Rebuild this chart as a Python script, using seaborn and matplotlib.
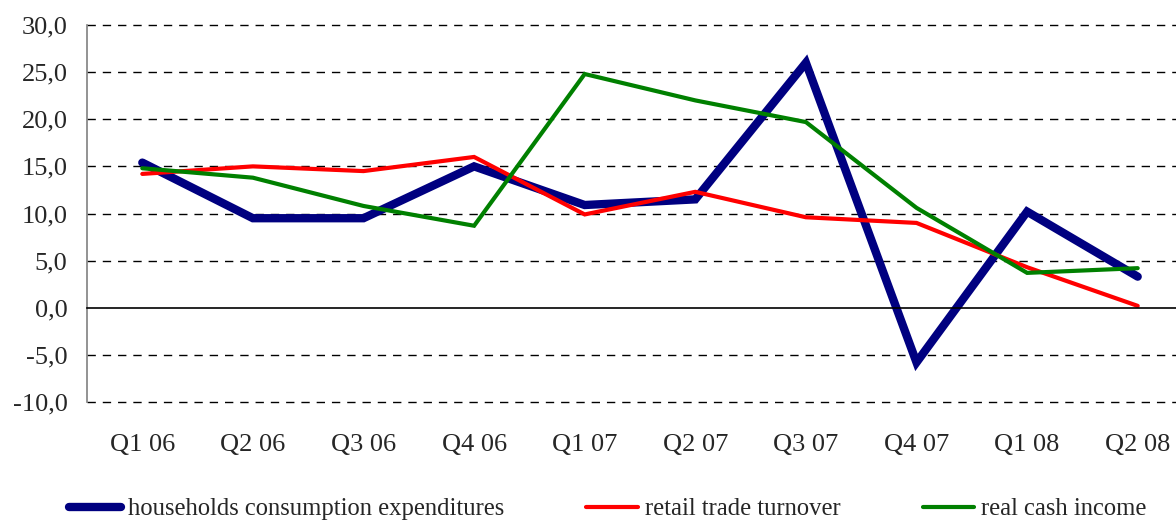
import matplotlib
matplotlib.use("Agg")
import matplotlib.pyplot as plt
import pandas as pd
import seaborn as sns

quarters = ["Q1 06", "Q2 06", "Q3 06", "Q4 06", "Q1 07", "Q2 07", "Q3 07", "Q4 07", "Q1 08", "Q2 08"]
households = [15.4, 9.5, 9.5, 15.0, 10.9, 11.5, 26.0, -5.8, 10.2, 3.3]
retail = [14.2, 15.0, 14.5, 16.0, 9.9, 12.3, 9.6, 9.0, 4.3, 0.2]
cash_income = [14.8, 13.8, 10.8, 8.7, 24.8, 22.0, 19.7, 10.6, 3.7, 4.2]

names = ["households consumption expenditures", "retail trade turnover", "real cash income"]
colors = ["#000080", "#ff0000", "#008000"]
widths = [6.0, 3.0, 3.0]

df = pd.DataFrame({
    "x": list(range(len(quarters))) * 3,
    "value": households + retail + cash_income,
    "series": [n for n in names for _ in quarters],
})

sns.set_style("white")
plt.rcParams['font.family'] = ['Liberation Serif', 'DejaVu Serif']

fig = plt.figure(figsize=(11.76, 5.23), dpi=100)
ax = fig.add_axes([87 / 1176, 1 - 402 / 523, 1106 / 1176, 377 / 523])

sns.lineplot(data=df, x="x", y="value", hue="series", hue_order=names,
             palette=colors, ax=ax, legend=False, sort=False)
for line, lw in zip(ax.get_lines(), widths):
    line.set_linewidth(lw)
    line.set_solid_capstyle("round")
    line.set_solid_joinstyle("miter")

ax.set_xlim(-0.5, len(quarters) - 0.5)
ax.set_ylim(-10, 30)
ax.set_yticks(range(-10, 31, 5))
ax.set_yticklabels([f"{v},0" for v in range(-10, 31, 5)], fontsize=19)
for v in range(-10, 31, 5):
    if v != 0:
        ax.axhline(v, color="black", lw=1, ls=(0, (6, 5)), zorder=0, clip_on=False)

# x axis at zero with boundary ticks, labels pushed down
ax.spines['bottom'].set_position(('data', 0))
ax.spines['bottom'].set_color("black")
ax.spines['bottom'].set_linewidth(1.2)
ax.spines['top'].set_visible(False)
ax.spines['right'].set_visible(False)
ax.spines['left'].set_color("#808080")
ax.spines['left'].set_linewidth(1.2)
ax.set_xticks(range(len(quarters)))
ax.set_xticklabels(quarters, fontsize=19)
ax.set_xticks([i - 0.5 for i in range(len(quarters) + 1)], minor=True)
ax.tick_params(axis='x', which='major', length=0, pad=91)
ax.tick_params(axis='x', which='minor', length=6, direction='out', color="#606060", width=1.2)
ax.tick_params(axis='y', length=6, direction='out', color="#808080", width=1.2, pad=8)
ax.set_xlabel("")
ax.set_ylabel("")

handles = [plt.Line2D([], [], color=c, lw=lw, solid_capstyle="round") for c, lw in zip(colors, widths)]
fig.legend(handles, names, loc="lower left", bbox_to_anchor=(0.04, -0.037), ncol=3,
           frameon=False, fontsize=17.7, handlelength=2.1, handletextpad=0.28,
           columnspacing=3.35)

fig.savefig("out.png", dpi=100)
